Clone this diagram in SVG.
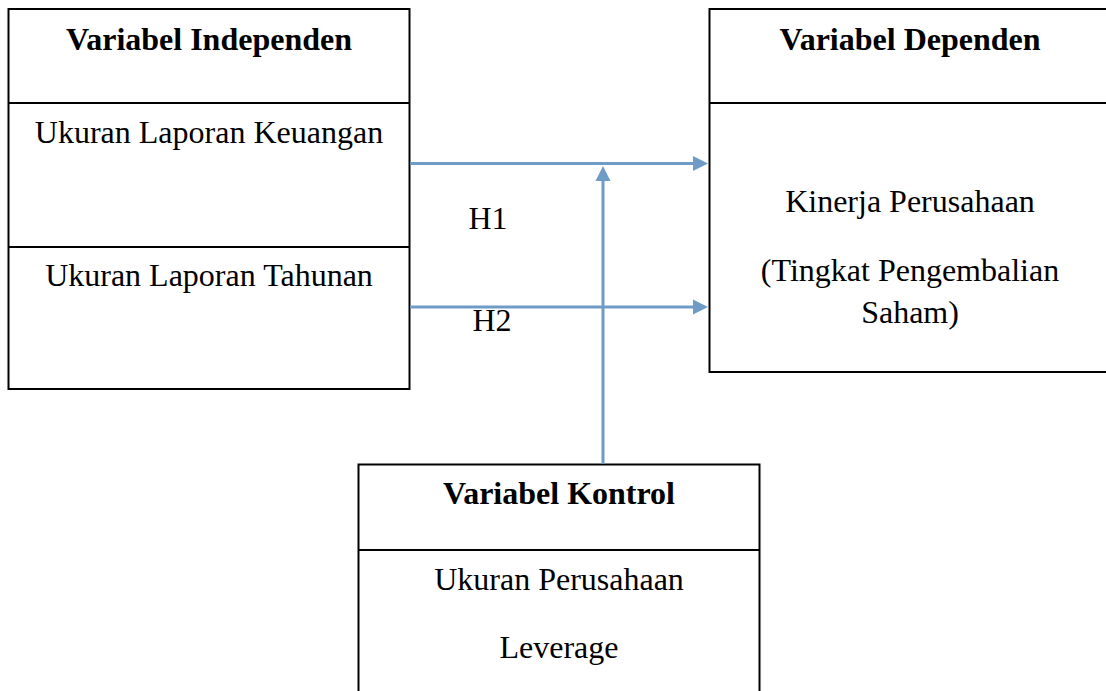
<svg xmlns="http://www.w3.org/2000/svg" width="1106" height="691" viewBox="0 0 1106 691">
<defs>
<style>
.box{fill:#fff;stroke:#000;stroke-width:2}
.div{stroke:#000;stroke-width:2}
.t{font-family:"Liberation Serif","Times New Roman",serif;font-size:32px;fill:#000;text-anchor:middle}
.b{font-weight:bold}
.c{stroke:#6F9BC7;stroke-width:3;fill:none}
</style>
<marker id="ah" markerUnits="userSpaceOnUse" markerWidth="16" markerHeight="16" viewBox="0 0 16 16" refX="1" refY="8" orient="auto">
<path d="M0,0.5 L15,8 L0,15.5 Z" fill="#6F9BC7"/>
</marker>
</defs>
<rect width="1106" height="691" fill="#fff"/>
<g id="independen">
<rect class="box" x="8.5" y="9" width="401" height="380"/>
<line class="div" x1="8.5" y1="103" x2="409.5" y2="103"/>
<line class="div" x1="8.5" y1="247" x2="409.5" y2="247"/>
<text class="t b" x="209" y="50">Variabel Independen</text>
<text class="t" x="209" y="143">Ukuran Laporan Keuangan</text>
<text class="t" x="209" y="286">Ukuran Laporan Tahunan</text>
</g>
<g id="dependen">
<rect class="box" x="709.5" y="9" width="420" height="363"/>
<line class="div" x1="709.5" y1="103" x2="1110" y2="103"/>
<text class="t b" x="910" y="50">Variabel Dependen</text>
<text class="t" x="910" y="212">Kinerja Perusahaan</text>
<text class="t" x="910" y="281">(Tingkat Pengembalian</text>
<text class="t" x="910" y="323">Saham)</text>
</g>
<g id="kontrol">
<rect class="box" x="358.5" y="464.5" width="401" height="240"/>
<line class="div" x1="358.5" y1="550" x2="759.5" y2="550"/>
<text class="t b" x="559" y="504">Variabel Kontrol</text>
<text class="t" x="559" y="590">Ukuran Perusahaan</text>
<text class="t" x="559" y="658">Leverage</text>
</g>
<g id="connectors">
<line class="c" x1="410" y1="163.5" x2="694" y2="163.5" marker-end="url(#ah)"/>
<line class="c" x1="410" y1="307" x2="694" y2="307" marker-end="url(#ah)"/>
<line class="c" x1="603" y1="464" x2="603" y2="180" marker-end="url(#ah)"/>
<text class="t" x="488" y="229">H1</text>
<text class="t" x="492" y="331">H2</text>
</g>
</svg>
